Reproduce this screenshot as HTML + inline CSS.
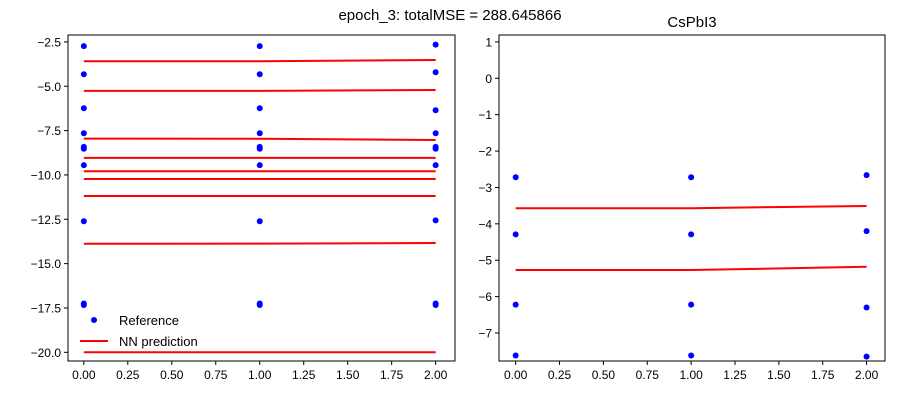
<!DOCTYPE html>
<html><head><meta charset="utf-8"><style>
body{margin:0;background:#fff;}
svg{display:block;font-family:"Liberation Sans","DejaVu Sans",sans-serif;}
</style></head><body>
<svg id="c" width="900" height="400" viewBox="0 0 900 400">
<text x="450" y="20" text-anchor="middle" font-size="15">epoch_3: totalMSE = 288.645866</text>
<text x="692" y="27" text-anchor="middle" font-size="15">CsPbI3</text>
</svg>
<script>
const xCats = [0, 1, 2];
const leftRefSeries = [
  [-2.74, -2.74, -2.65], [-4.32, -4.32, -4.21], [-6.24, -6.24, -6.35], [-7.65, -7.65, -7.65],
  [-8.42, -8.42, -8.42], [-8.52, -8.52, -8.52], [-9.45, -9.45, -9.45], [-12.61, -12.61, -12.56],
  [-17.25, -17.25, -17.25], [-17.33, -17.33, -17.33]
];
const leftPredSeries = [
  [-3.59, -3.59, -3.52], [-5.26, -5.26, -5.21], [-7.95, -7.96, -8.03], [-9.04, -9.04, -9.04],
  [-9.79, -9.79, -9.79], [-10.23, -10.23, -10.23], [-11.19, -11.19, -11.19],
  [-13.88, -13.87, -13.84], [-20.0, -20.0, -20.0]
];
const rightRefSeries = [
  [-2.72, -2.72, -2.66], [-4.29, -4.29, -4.2], [-6.22, -6.22, -6.3], [-7.62, -7.62, -7.65]
];
const rightPredSeries = [
  [-3.57, -3.57, -3.51], [-5.27, -5.27, -5.18]
];
const xTickLabels = ["0.00","0.25","0.50","0.75","1.00","1.25","1.50","1.75","2.00"];
const xTickValues = [0,0.25,0.5,0.75,1,1.25,1.5,1.75,2];
const leftYTicks = [-2.5,-5,-7.5,-10,-12.5,-15,-17.5,-20];
const leftYLabels = ["−2.5","−5.0","−7.5","−10.0","−12.5","−15.0","−17.5","−20.0"];
const rightYTicks = [1,0,-1,-2,-3,-4,-5,-6,-7];
const rightYLabels = ["1","0","−1","−2","−3","−4","−5","−6","−7"];

const svg = document.getElementById('c');
const NS = 'http://www.w3.org/2000/svg';
function mk(tag, attrs, parent){
  const e = document.createElementNS(NS, tag);
  for (const k in attrs) e.setAttribute(k, attrs[k]);
  (parent||svg).appendChild(e);
  return e;
}
function panel(name, box, xmin, xmax, ymin, ymax, yTicks, yLabels, refS, predS, legend){
  const g = mk('g', {});
  
  
  const sx = v => box.x + (v - xmin) / (xmax - xmin) * box.w;
  const sy = v => box.y + (ymax - v) / (ymax - ymin) * box.h;
  predS.forEach((s, i) => {
    const p = mk('polyline', {points: s.map((v, j) => sx(xCats[j]) + ',' + sy(v)).join(' '), fill: 'none', stroke: '#ff0000', 'stroke-width': 2}, g);
    
    
  });
  refS.forEach((s, i) => s.forEach((v, j) => {
    const c = mk('circle', {cx: sx(xCats[j]), cy: sy(v), r: 3, fill: '#0000ff'}, g);
    
    
  }));
  const fr = mk('rect', {x: box.x, y: box.y, width: box.w, height: box.h, fill: 'none', stroke: '#000', 'stroke-width': 1}, g);
  
  
  xTickValues.forEach((v, i) => {
    const X = sx(v);
    mk('line', {x1: X, x2: X, y1: box.y + box.h, y2: box.y + box.h + 4, stroke: '#000'}, g);
    const t = mk('text', {x: X, y: box.y + box.h + 18, 'text-anchor': 'middle', 'font-size': 12}, g);
    t.textContent = xTickLabels[i];
    
    
  });
  yTicks.forEach((v, i) => {
    const Y = sy(v);
    mk('line', {x1: box.x - 4, x2: box.x, y1: Y, y2: Y, stroke: '#000'}, g);
    const t = mk('text', {x: box.x - 7, y: Y + 4.5, 'text-anchor': 'end', 'font-size': 12}, g);
    t.textContent = yLabels[i];
    
    
  });
  if (legend) {
    const lg = mk('g', {}, g);
    
    
    mk('circle', {cx: 94, cy: 320, r: 3, fill: '#0000ff'}, lg);
    const t1 = mk('text', {x: 119, y: 325, 'font-size': 13}, lg);
    t1.textContent = 'Reference';
    
    
    mk('line', {x1: 80, x2: 108, y1: 341, y2: 341, stroke: '#ff0000', 'stroke-width': 2}, lg);
    const t2 = mk('text', {x: 119, y: 346, 'font-size': 13}, lg);
    t2.textContent = 'NN prediction';
    
    
  }
}
panel('left-plot', {x: 68, y: 35, w: 387, h: 326}, -0.09, 2.11, -20.49, -2.11, leftYTicks, leftYLabels, leftRefSeries, leftPredSeries, true);
panel('right-plot', {x: 499, y: 35, w: 386, h: 326}, -0.095, 2.105, -7.77, 1.19, rightYTicks, rightYLabels, rightRefSeries, rightPredSeries, false);
</script>
</body></html>
